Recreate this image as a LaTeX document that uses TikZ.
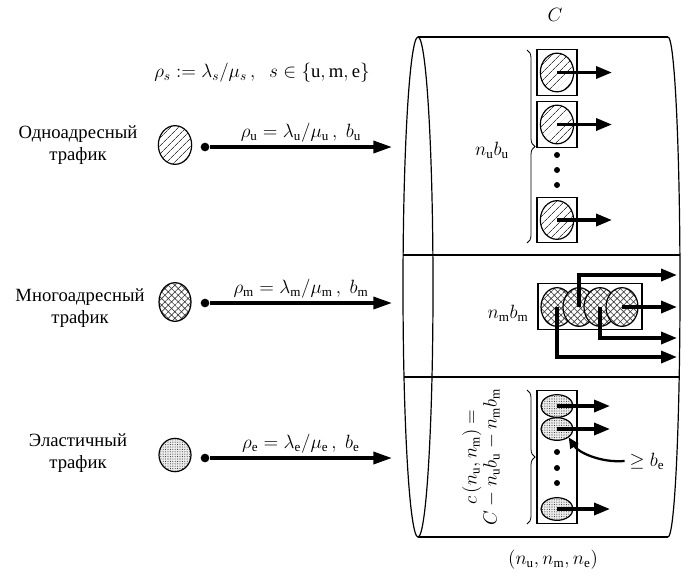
\documentclass[tikz,border=0pt]{standalone}
\usepackage{fontspec}
\setmainfont{Liberation Serif}
\usetikzlibrary{arrows.meta, positioning, shapes.geometric, patterns.meta, decorations.pathreplacing}

\begin{document}
\begin{tikzpicture}[x=0.75pt, y=-0.75pt, line width=0.9pt,
    font=\fontsize{14}{16}\selectfont,
    ttext/.style={align=center, font=\fontsize{14}{17}\selectfont},
    ucirc/.style={ellipse, draw, inner sep=0pt, minimum width=25pt, minimum height=29pt,
                  preaction={fill=white}, pattern={Lines[angle=45,distance=4pt,line width=0.6pt]},
                  pattern color=black!75},
    mcirc/.style={ellipse, draw, inner sep=0pt, minimum width=24pt, minimum height=29pt,
                  preaction={fill=white}, pattern={Hatch[angle=45,distance=3.5pt,line width=0.5pt]},
                  pattern color=black!75},
    ecirc/.style={ellipse, draw, inner sep=0pt, minimum width=24pt, minimum height=17pt,
                  preaction={fill=gray!15}, pattern={Dots[distance=1.8pt,radius=0.4pt]},
                  pattern color=black!80},
    cell/.style={draw, rectangle, inner sep=0pt},
    vdot/.style={circle, fill=black, inner sep=0pt, minimum size=4.5pt},
    src/.style={circle, fill=black, inner sep=0pt, minimum size=6.5pt},
    feed/.style={line width=2.6pt, -{Triangle[length=14pt,width=9pt]}},
    outarrow/.style={line width=2.6pt, -{Triangle[length=12pt,width=9pt]}},
    brc/.style={decorate, decoration={brace, amplitude=6pt}, line width=0.6pt}
]
\useasboundingbox (0,0) rectangle (681,579);
%% capacity C (the link)
\draw (418,37) -- (668,37);
\draw (418,537) -- (668,537);
\draw (418,287) ellipse [x radius=15, y radius=250];
\draw (668,37) arc [start angle=-90, end angle=90, x radius=12, y radius=250];
\draw (403,255) -- (680,255);
\draw (404,377) -- (680,377);
\node (cap) at (555,15) {$C$};
\node (state) at (553,560) {$(n_{\mathrm{u}}, n_{\mathrm{m}}, n_{\mathrm{e}})$};
\node (rho) at (262,73) {$\rho_s \mathrel{:=} \lambda_s/\mu_s\,,\;\; s\in\{\mathrm{u},\mathrm{m},\mathrm{e}\}$};
%% unicast traffic
\node[ttext] (tu) at (78,145) {Одноадресный\\трафик};
\node[ucirc] (cu) at (175,145) {};
\node[src] (su) at (205,147) {};
\coordinate (eu) at (392,147);
\draw[feed] (su) -- node[above=-1pt] {$\rho_{\mathrm{u}} = \lambda_{\mathrm{u}}/\mu_{\mathrm{u}}\,,\; b_{\mathrm{u}}$} (eu);
%% multicast traffic
\node[ttext] (tm) at (80,308) {Многоадресный\\трафик};
\node[mcirc] (cm) at (175,302) {};
\node[src] (sm) at (205,303) {};
\coordinate (em) at (392,303);
\draw[feed] (sm) -- node[above=-1pt] {$\rho_{\mathrm{m}} = \lambda_{\mathrm{m}}/\mu_{\mathrm{m}}\,,\; b_{\mathrm{m}}$} (em);
%% elastic traffic
\node[ttext] (te) at (78,453) {Эластичный\\трафик};
\node[ecirc, minimum height=25pt] (ce) at (175,455) {};
\node[src] (se) at (205,458) {};
\coordinate (ee) at (392,458);
\draw[feed] (se) -- node[above=-1pt] {$\rho_{\mathrm{e}} = \lambda_{\mathrm{e}}/\mu_{\mathrm{e}}\,,\; b_{\mathrm{e}}$} (ee);
%% unicast section of the link
\foreach \i/\y in {1/72.5, 2/124.5, 3/220} {
    \node[cell, minimum width=30pt, minimum height=34pt] (ub\i) at (557,\y) {};
    \node[ucirc] (u\i) at (557,\y) {};
    \coordinate (uo\i) at (612,\y);
    \draw[outarrow] (u\i.center) -- (uo\i);
}
\foreach \i/\y in {1/155, 2/170, 3/185}
    \node[vdot] (ud\i) at (557,\y) {};
\draw[brc] (527,50) -- (527,243);
\node (nu) at (492,150) {$n_{\mathrm{u}} b_{\mathrm{u}}$};
%% multicast section of the link
\node[cell, minimum width=78pt, minimum height=35pt] (mb) at (590,306.5) {};
\foreach \i/\x in {1/557, 2/579, 3/600, 4/622}
    \node[mcirc] (m\i) at (\x,307) {};
\coordinate (mo1) at (677,275);
\coordinate (mo2) at (677,307);
\coordinate (mo3) at (677,338);
\coordinate (mo4) at (677,357);
\draw[outarrow] (m2.center) |- (mo1);
\draw[outarrow] (m4.center) -- (mo2);
\draw[outarrow] (m3.center) |- (mo3);
\draw[outarrow] (m1.center) |- (mo4);
\node (nm) at (508,313) {$n_{\mathrm{m}} b_{\mathrm{m}}$};
%% elastic section of the link
\node[cell, minimum width=30pt, minimum height=100pt] (eb) at (557,457) {};
\foreach \i/\y in {1/406, 2/429, 3/509} {
    \node[ecirc] (e\i) at (557,\y) {};
    \coordinate (eo\i) at (610,\y);
    \draw[outarrow] (e\i.center) -- (eo\i);
}
\foreach \i/\y in {1/452, 2/468, 3/483}
    \node[vdot] (ed\i) at (557,\y) {};
\draw[brc] (527,390) -- (527,524);
\node[rotate=90, align=center, font=\fontsize{14}{15}\selectfont] (ce2) at (481,457)
    {$c\,(n_{\mathrm{u}}, n_{\mathrm{m}}) =$\\$C - n_{\mathrm{u}} b_{\mathrm{u}} - n_{\mathrm{m}} b_{\mathrm{m}}$};
\node (ge) at (647,461) {$\geq b_{\mathrm{e}}$};
\draw[line width=1.7pt, -{Triangle[length=8pt,width=7pt]}] (ge.west)
    .. controls (600,463) and (578,452) .. (e2.south east);
\end{tikzpicture}
\end{document}
